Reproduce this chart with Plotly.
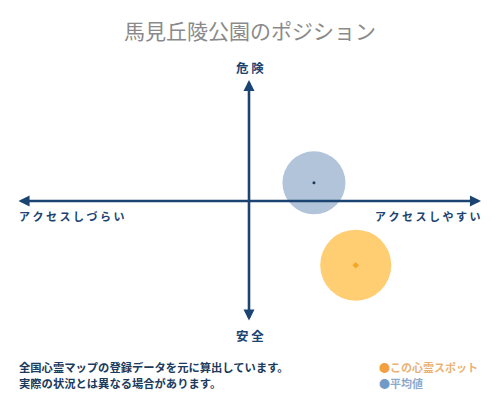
import plotly.graph_objects as go

# position values on the access (x) / danger (y) plane, range -1..1
spot_name = "この心霊スポット"
avg_name = "平均値"
spot_x = [0.46]
spot_y = [-0.53]
avg_x = [0.28]
avg_y = [0.15]

title_text = "馬見丘陵公園のポジション"
top_label = "危 険"
bottom_label = "安 全"
left_label = "ア ク セ ス し づ ら い"
right_label = "ア ク セ ス し や す い"
note_lines = [
    "全国心霊マップの登録データを元に算出しています。",
    "実際の状況とは異なる場合があります。",
]

NAVY = "#1b4472"
FONT = "Noto Sans CJK JP"

# plot area in pixels: x 17..481, y 80..322
L, R, T, B = 17, 19, 80, 78
PW, PH = 500 - L - R, 400 - T - B


def px(x):
    return (x - L) / PW


def py(y):
    return (400 - B - y) / PH


fig = go.Figure()
fig.add_trace(go.Scatter(
    x=avg_x, y=avg_y, mode="markers",
    marker=dict(size=63, color="#b1c4d9", line=dict(width=0)),
    hoverinfo="skip", showlegend=False,
))
fig.add_trace(go.Scatter(
    x=spot_x, y=spot_y, mode="markers",
    marker=dict(size=71, color="#ffcd72", line=dict(width=0)),
    hoverinfo="skip", showlegend=False,
))
fig.add_trace(go.Scatter(
    x=avg_x, y=avg_y, mode="markers",
    marker=dict(size=3, color="#1b3a5c"),
    hoverinfo="skip", showlegend=False,
))
fig.add_trace(go.Scatter(
    x=spot_x, y=spot_y, mode="markers",
    marker=dict(size=5, color="#f5a623", symbol="diamond"),
    hoverinfo="skip", showlegend=False,
))

ann = []
# axes arrows
for x0, y0, x1, y1 in [(-1, 0, 1, 0), (0, -1, 0, 1)]:
    ann.append(dict(
        x=x1, y=y1, ax=x0, ay=y0, xref="x", yref="y", axref="x", ayref="y",
        showarrow=True, arrowhead=2, arrowside="end+start",
        arrowsize=0.85, arrowwidth=2.6, arrowcolor=NAVY, text="",
        standoff=0, startstandoff=0,
    ))


def label(x, y, text, size, color, xanchor="center", bold=True):
    return dict(
        x=px(x), y=py(y), xref="paper", yref="paper",
        text=f"<b>{text}</b>" if bold else text,
        xanchor=xanchor, yanchor="middle", showarrow=False,
        font=dict(family=FONT, size=size, color=color),
    )


ann += [
    label(250, 30, title_text, 21, "#8a8a8a", bold=False),
    label(250, 68, top_label, 12.5, NAVY),
    label(250, 335, bottom_label, 12.5, NAVY),
    label(17, 216, left_label, 11, NAVY, xanchor="left"),
    label(482, 216, right_label, 11, NAVY, xanchor="right"),
]
for i, line in enumerate(note_lines):
    ann.append(label(17, 367 + 16 * i, line, 11.3, "#1b3a5c", xanchor="left"))

legend_items = [
    (spot_name, "#f2a03d", "#e9b274"),
    (avg_name, "#6f9bc6", "#8eaacb"),
]
for i, (name, dot, txt) in enumerate(legend_items):
    ann.append(label(
        377, 367 + 16 * i,
        f"<span style='color:{dot}'>●</span><span style='color:{txt}'>{name}</span>",
        11, txt, xanchor="left",
    ))

fig.update_layout(
    width=500, height=400,
    margin=dict(l=L, r=R, t=T, b=B),
    paper_bgcolor="white", plot_bgcolor="white",
    xaxis=dict(range=[-1, 1], visible=False, fixedrange=True),
    yaxis=dict(range=[-1, 1], visible=False, fixedrange=True),
    annotations=ann,
    showlegend=False,
)
fig.write_html(
    "out.html",
    config={"displayModeBar": False},
    post_script="document.body.style.margin='0';",
)
